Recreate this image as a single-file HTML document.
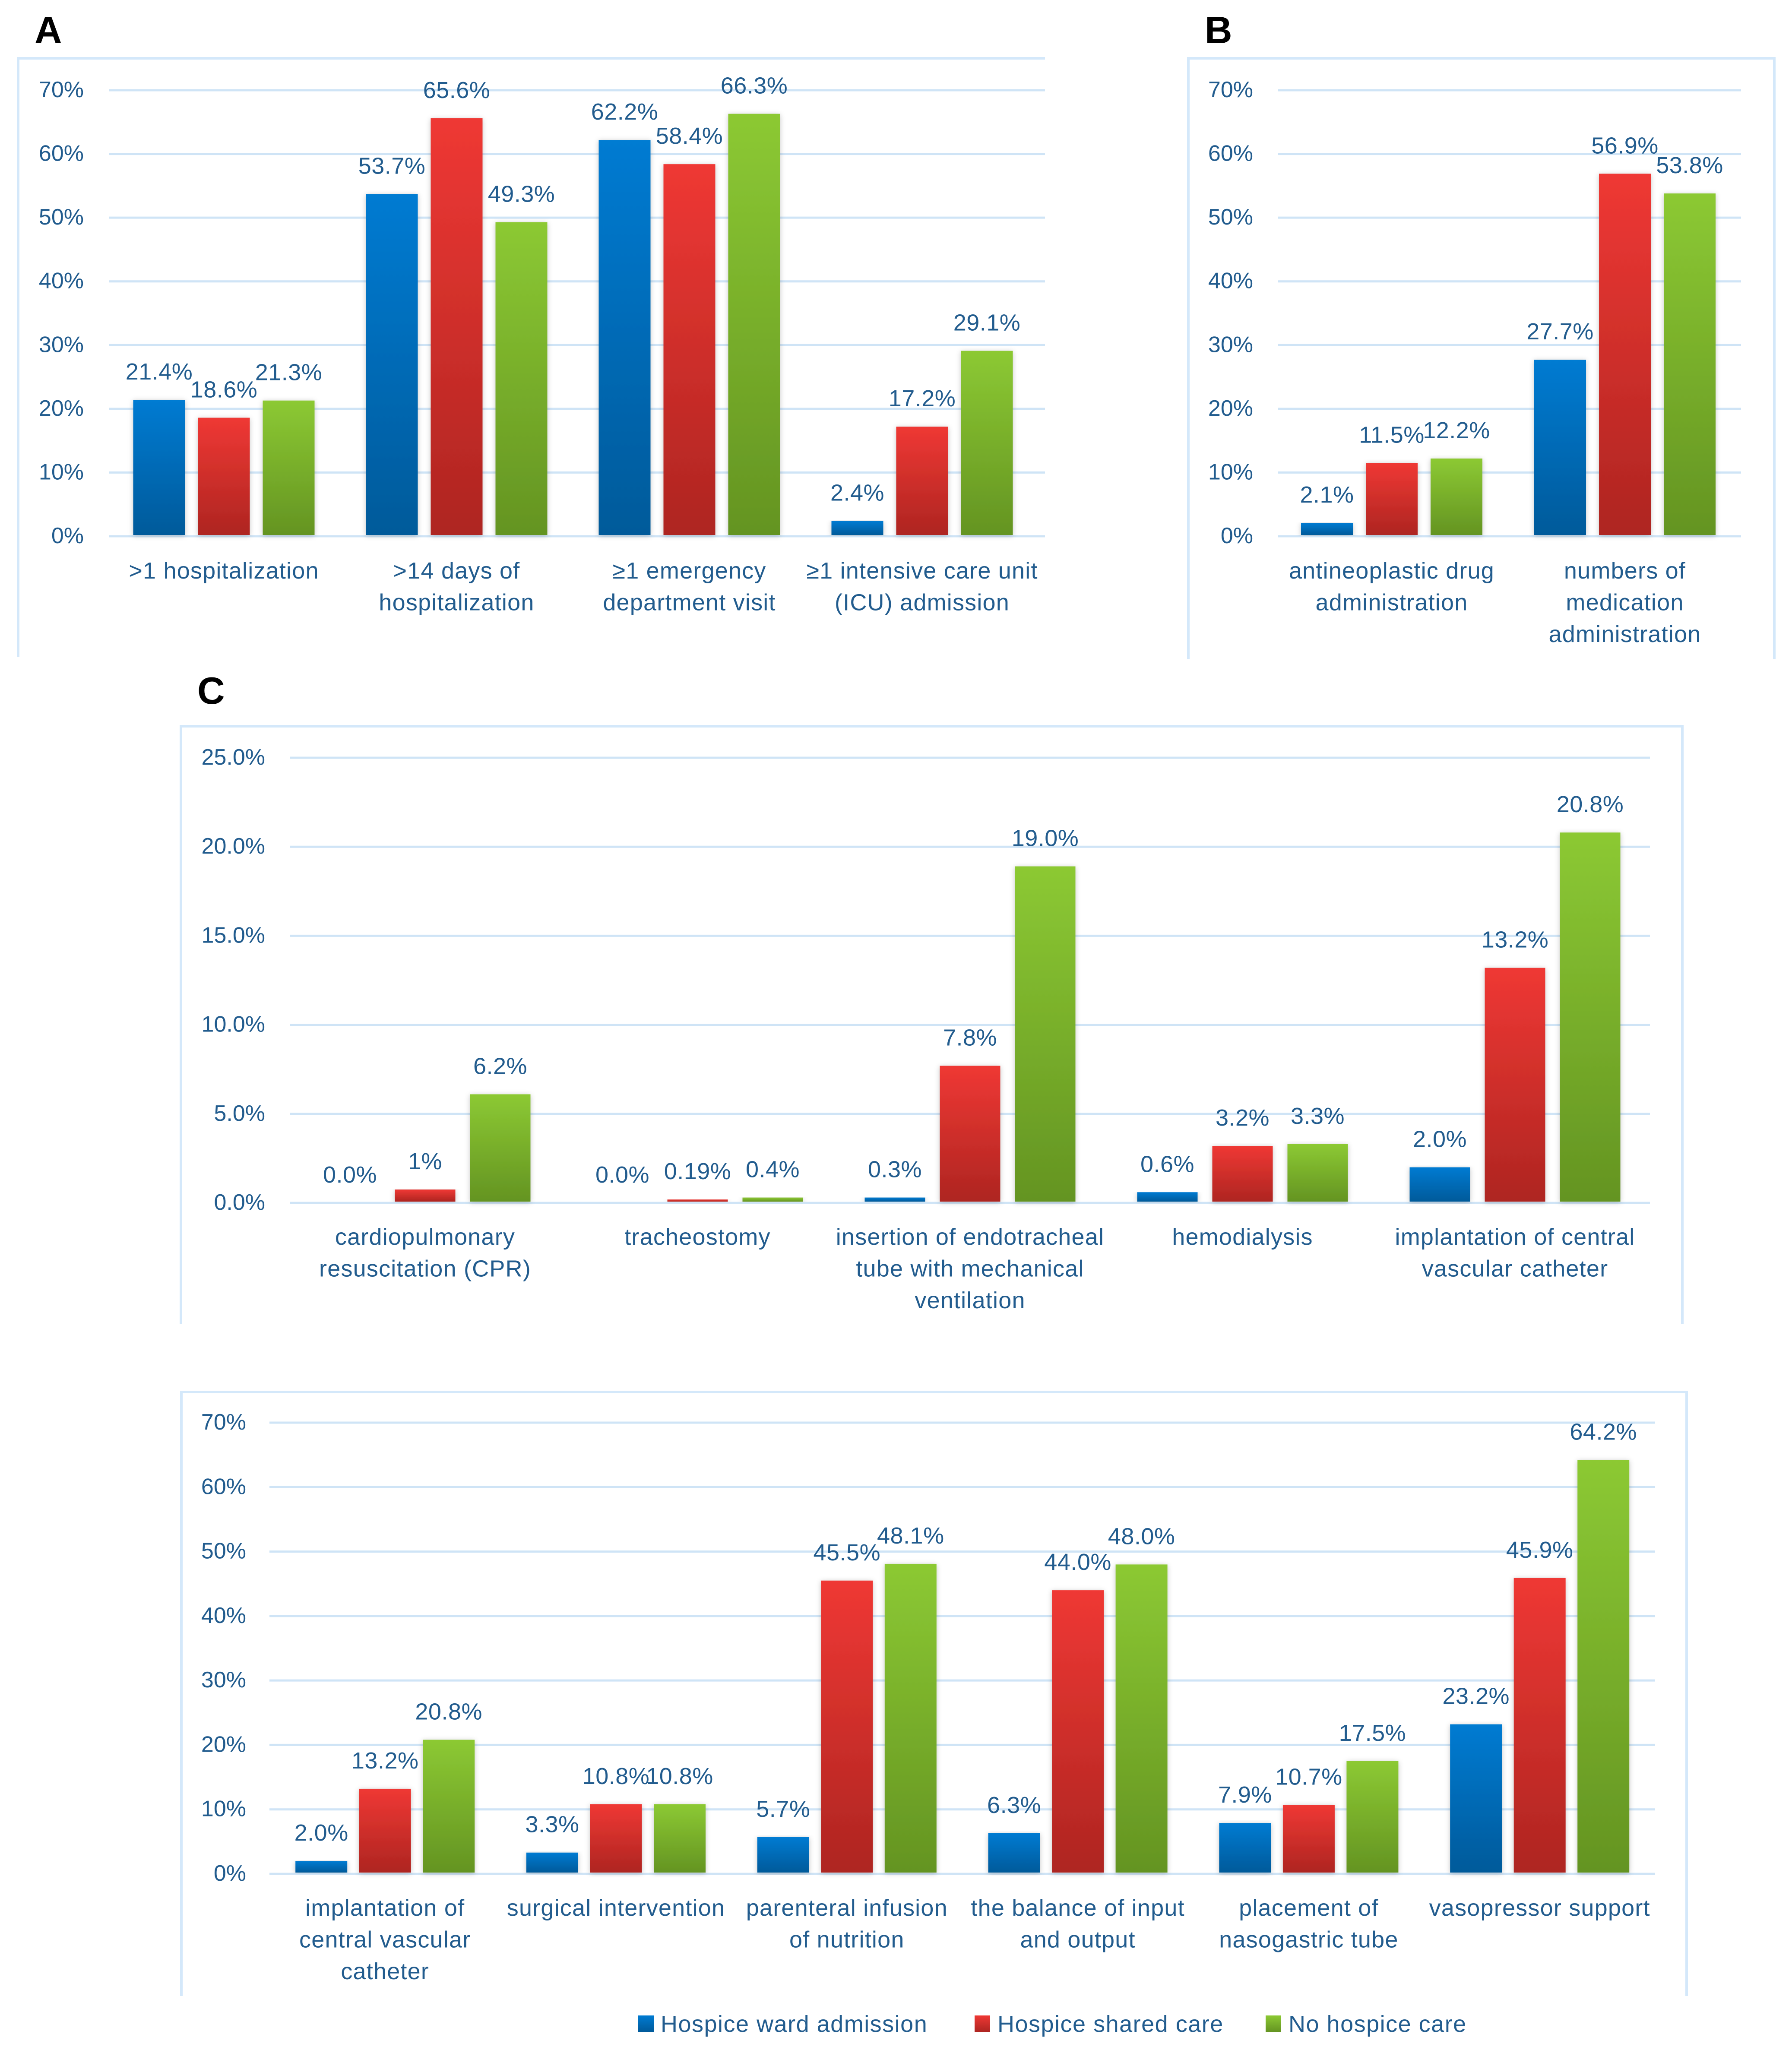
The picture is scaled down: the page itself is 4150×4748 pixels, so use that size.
<!DOCTYPE html>
<html lang="en">
<head>
<meta charset="utf-8">
<title>Hospice care outcomes bar charts</title>
<style>
html,body{margin:0;padding:0;background:#fff;width:4150px;height:4748px;overflow:hidden}
svg{display:block}
text{font-family:"Liberation Sans",sans-serif;fill:#225c8e}
.tick{font-size:52px}
.val{font-size:54px;letter-spacing:.5px}
.cat{font-size:54px;letter-spacing:1.2px}
.leg{font-size:54px;letter-spacing:1.5px}
.panel{font-size:88px;font-weight:700;fill:#000}
</style>
</head>
<body>
<svg id="figure" xmlns="http://www.w3.org/2000/svg" width="4150" height="4748" viewBox="0 0 4150 4748">
<defs>
<linearGradient id="gBlue" x1="0" y1="0" x2="0" y2="1"><stop offset="0" stop-color="#007bd2"/><stop offset="1" stop-color="#005a9a"/></linearGradient>
<linearGradient id="gRed" x1="0" y1="0" x2="0" y2="1"><stop offset="0" stop-color="#ef3834"/><stop offset="1" stop-color="#ae2521"/></linearGradient>
<linearGradient id="gGreen" x1="0" y1="0" x2="0" y2="1"><stop offset="0" stop-color="#8cc933"/><stop offset="1" stop-color="#649422"/></linearGradient>
<filter id="barShadow" x="-20%" y="-5%" width="140%" height="112%"><feDropShadow dx="0" dy="2" stdDeviation="6" flood-color="#000" flood-opacity=".22"/></filter>
</defs>
<text class="panel" x="80" y="100">A</text>
<text class="panel" x="2790" y="100">B</text>
<text class="panel" x="457" y="1630">C</text>
<g id="charts"></g>
<g>
<rect x="1478" y="4668" width="36" height="38" fill="url(#gBlue)"/>
<text class="leg" x="1530" y="4706">Hospice ward admission</text>
<rect x="2257" y="4668" width="36" height="38" fill="url(#gRed)"/>
<text class="leg" x="2310" y="4706">Hospice shared care</text>
<rect x="2931" y="4668" width="36" height="38" fill="url(#gGreen)"/>
<text class="leg" x="2984" y="4706">No hospice care</text>
</g>
</svg>
<script>
// Shared tick values
const percentTicks = [0, 10, 20, 30, 40, 50, 60, 70];
const percentTickLabels = ['0%', '10%', '20%', '30%', '40%', '50%', '60%', '70%'];
const cTicks = [0, 5, 10, 15, 20, 25];
const cTickLabels = ['0.0%', '5.0%', '10.0%', '15.0%', '20.0%', '25.0%'];

// Panel A
const aCategories = ['>1 hospitalization', '>14 days of|hospitalization', '≥1 emergency|department visit', '≥1 intensive care unit|(ICU) admission'];
const aWard = [21.4, 53.7, 62.2, 2.4];
const aShared = [18.6, 65.6, 58.4, 17.2];
const aNone = [21.3, 49.3, 66.3, 29.1];
const aWardText = ['21.4%', '53.7%', '62.2%', '2.4%'];
const aSharedText = ['18.6%', '65.6%', '58.4%', '17.2%'];
const aNoneText = ['21.3%', '49.3%', '66.3%', '29.1%'];

// Panel B
const bCategories = ['antineoplastic drug|administration', 'numbers of|medication|administration'];
const bWard = [2.1, 27.7];
const bShared = [11.5, 56.9];
const bNone = [12.2, 53.8];
const bWardText = ['2.1%', '27.7%'];
const bSharedText = ['11.5%', '56.9%'];
const bNoneText = ['12.2%', '53.8%'];

// Panel C, upper chart
const cCategories = ['cardiopulmonary|resuscitation (CPR)', 'tracheostomy', 'insertion of endotracheal|tube with mechanical|ventilation', 'hemodialysis', 'implantation of central|vascular catheter'];
const cWard = [0, 0, 0.3, 0.6, 2.0];
const cShared = [0.75, 0.19, 7.7, 3.2, 13.2];
const cNone = [6.1, 0.3, 18.9, 3.3, 20.8];
const cWardText = ['0.0%', '0.0%', '0.3%', '0.6%', '2.0%'];
const cSharedText = ['1%', '0.19%', '7.8%', '3.2%', '13.2%'];
const cNoneText = ['6.2%', '0.4%', '19.0%', '3.3%', '20.8%'];

// Panel C, lower chart
const dCategories = ['implantation of|central vascular|catheter', 'surgical intervention', 'parenteral infusion|of nutrition', 'the balance of input|and output', 'placement of|nasogastric tube', 'vasopressor support'];
const dWard = [2.0, 3.3, 5.7, 6.3, 7.9, 23.2];
const dShared = [13.2, 10.8, 45.5, 44.0, 10.7, 45.9];
const dNone = [20.8, 10.8, 48.1, 48.0, 17.5, 64.2];
const dWardText = ['2.0%', '3.3%', '5.7%', '6.3%', '7.9%', '23.2%'];
const dSharedText = ['13.2%', '10.8%', '45.5%', '44.0%', '10.7%', '45.9%'];
const dNoneText = ['20.8%', '10.8%', '48.1%', '48.0%', '17.5%', '64.2%'];

const NS = 'http://www.w3.org/2000/svg';
const fills = ['url(#gBlue)', 'url(#gRed)', 'url(#gGreen)'];
const seriesNames = ['hospice-ward', 'hospice-shared', 'no-hospice'];

function makeEl(tag, parent) {
  const el = document.createElementNS(NS, tag);
  parent.appendChild(el);
  return el;
}

function drawChart(cfg) {
  const root = document.getElementById('charts');
  const g = makeEl('g', root);
  
  

  const yOf = v => cfg.axisY - (cfg.axisY - cfg.topY) * v / cfg.ticks[cfg.ticks.length - 1];

  const frame = makeEl('path', g);
  
  
  const f = cfg.frame;
  frame.setAttribute('d', 'M' + f.l + ' ' + f.b + 'V' + f.t + 'H' + f.r + (f.open ? '' : 'V' + f.b));
  frame.setAttribute('fill', 'none');
  frame.setAttribute('stroke', '#d4e8fa');
  frame.setAttribute('stroke-width', '6');

  cfg.ticks.forEach((t, i) => {
    const line = makeEl('line', g);
    
    
    line.setAttribute('x1', cfg.gridL);
    line.setAttribute('x2', cfg.gridR);
    line.setAttribute('y1', yOf(t));
    line.setAttribute('y2', yOf(t));
    line.setAttribute('stroke', '#cfe4f6');
    line.setAttribute('stroke-width', '5');

    const label = makeEl('text', g);
    
    
    label.setAttribute('class', 'tick');
    label.setAttribute('x', cfg.tickR);
    label.setAttribute('y', yOf(t) + 16);
    label.setAttribute('text-anchor', 'end');
    label.textContent = cfg.tickLabels[i];
  });

  cfg.categories.forEach((cat, i) => {
    const center = cfg.x0 + cfg.pitch * (i + 0.5);
    cfg.series.forEach((vals, s) => {
      const left = center + (s - 1) * (cfg.barW + cfg.gap) - cfg.barW / 2;
      const top = yOf(vals[i]);
      if (vals[i] > 0) {
        const bar = makeEl('rect', g);
        
        
        bar.setAttribute('x', left);
        bar.setAttribute('y', top);
        bar.setAttribute('width', cfg.barW);
        bar.setAttribute('height', Math.max(cfg.axisY - 3 - top, 4));
        bar.setAttribute('fill', fills[s]);
        bar.setAttribute('filter', 'url(#barShadow)');
      }
      const val = makeEl('text', g);
      
      
      val.setAttribute('class', 'val');
      val.setAttribute('x', left + cfg.barW / 2);
      val.setAttribute('y', top - 47);
      val.setAttribute('text-anchor', 'middle');
      val.textContent = cfg.seriesText[s][i];
    });
    cat.split('|').forEach((line, j) => {
      const t = makeEl('text', g);
      
      
      t.setAttribute('class', 'cat');
      t.setAttribute('x', center);
      t.setAttribute('y', cfg.axisY + cfg.catOffset + j * 73.5);
      t.setAttribute('text-anchor', 'middle');
      t.textContent = line;
    });
  });
}

drawChart({
  name: 'chart-a', categories: aCategories, series: [aWard, aShared, aNone], seriesText: [aWardText, aSharedText, aNoneText],
  ticks: percentTicks, tickLabels: percentTickLabels, axisY: 1242, topY: 209, gridL: 252, gridR: 2420, tickR: 194,
  x0: 249, pitch: 539, barW: 120, gap: 30, catOffset: 98, frame: {l: 42, t: 135, r: 2420, b: 1522, open: true}
});
drawChart({
  name: 'chart-b', categories: bCategories, series: [bWard, bShared, bNone], seriesText: [bWardText, bSharedText, bNoneText],
  ticks: percentTicks, tickLabels: percentTickLabels, axisY: 1242, topY: 209, gridL: 2960, gridR: 4032, tickR: 2902,
  x0: 2953, pitch: 540, barW: 120, gap: 30, catOffset: 98, frame: {l: 2752, t: 135, r: 4109, b: 1527}
});
drawChart({
  name: 'chart-c-upper', categories: cCategories, series: [cWard, cShared, cNone], seriesText: [cWardText, cSharedText, cNoneText],
  ticks: cTicks, tickLabels: cTickLabels, axisY: 2786, topY: 1755, gridL: 672, gridR: 3821, tickR: 614,
  x0: 669, pitch: 631, barW: 140, gap: 34, catOffset: 97, frame: {l: 419, t: 1682, r: 3896, b: 3066}
});
drawChart({
  name: 'chart-c-lower', categories: dCategories, series: [dWard, dShared, dNone], seriesText: [dWardText, dSharedText, dNoneText],
  ticks: percentTicks, tickLabels: percentTickLabels, axisY: 4340, topY: 3295, gridL: 624, gridR: 3833, tickR: 570,
  x0: 624.3, pitch: 534.8, barW: 120, gap: 27.5, catOffset: 97, frame: {l: 420, t: 3224, r: 3906, b: 4623}
});
</script>
</body>
</html>
